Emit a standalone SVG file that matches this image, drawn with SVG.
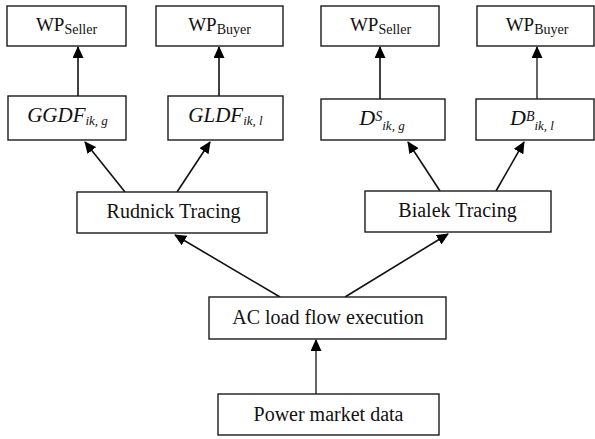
<svg xmlns="http://www.w3.org/2000/svg" width="595" height="439" viewBox="0 0 595 439">
  <style>
    .box { fill: #fff; stroke: #1a1a1a; stroke-width: 1.4; }
    .lbl { font-family: "Liberation Serif", "Times New Roman", serif; fill: #111; text-anchor: middle; }
    .it { font-style: italic; }
    .sm { font-size: 14px; }
    .xs { font-size: 13px; }
    .edge { stroke: #111; stroke-width: 1.6; fill: none; marker-end: url(#head); }
    .grey { stroke: #666; stroke-width: 2; }
  </style>
  <defs>
    <marker id="head" markerUnits="userSpaceOnUse" markerWidth="12" markerHeight="11" refX="11" refY="5.5" orient="auto">
      <path d="M0,0 L12,5.5 L0,11 z" fill="#000"/>
    </marker>
  </defs>

  <rect width="595" height="439" fill="#fff"/>

  <!-- connectors -->
  <g id="connectors">
    <line class="edge" x1="78" y1="96" x2="78" y2="47"/>
    <line class="edge" x1="219" y1="96" x2="219" y2="47"/>
    <line class="edge" x1="380" y1="99" x2="380" y2="47"/>
    <line class="edge grey" x1="537" y1="99" x2="537" y2="47"/>
    <line class="edge" x1="125" y1="192" x2="85" y2="142"/>
    <line class="edge" x1="177" y1="192" x2="210" y2="142"/>
    <line class="edge" x1="440" y1="191" x2="408" y2="142"/>
    <line class="edge" x1="496" y1="191" x2="524" y2="142"/>
    <line class="edge" x1="280" y1="297" x2="175" y2="235"/>
    <line class="edge" x1="345" y1="297" x2="448" y2="234"/>
    <line class="edge grey" x1="316" y1="394" x2="316" y2="340"/>
  </g>

  <!-- top row: price outputs -->
  <g id="wp-seller-1">
    <rect class="box" x="7" y="6" width="119" height="40"/>
    <text class="lbl" x="66.5" y="31" font-size="19">WP<tspan class="sm" dy="2.5">Seller</tspan></text>
  </g>
  <g id="wp-buyer-1">
    <rect class="box" x="156" y="6" width="127" height="40"/>
    <text class="lbl" x="219.5" y="31" font-size="19">WP<tspan class="sm" dy="2.5">Buyer</tspan></text>
  </g>
  <g id="wp-seller-2">
    <rect class="box" x="321" y="6" width="118" height="40"/>
    <text class="lbl" x="380.5" y="31" font-size="19">WP<tspan class="sm" dy="2.5">Seller</tspan></text>
  </g>
  <g id="wp-buyer-2">
    <rect class="box" x="477" y="6" width="117" height="40"/>
    <text class="lbl" x="537" y="31" font-size="19">WP<tspan class="sm" dy="2.5">Buyer</tspan></text>
  </g>

  <!-- second row: distribution factors -->
  <g id="ggdf">
    <rect class="box" x="8" y="96" width="118" height="44"/>
    <text class="lbl it" x="67.5" y="122" font-size="21">GGDF<tspan class="xs" dy="3">ik, g</tspan></text>
  </g>
  <g id="gldf">
    <rect class="box" x="168" y="96" width="115" height="44"/>
    <text class="lbl it" x="225.5" y="122" font-size="21">GLDF<tspan class="xs" dy="3">ik, l</tspan></text>
  </g>
  <g id="ds">
    <rect class="box" x="321" y="99" width="124" height="41"/>
    <text class="lbl it" x="382" y="125" font-size="22">D<tspan class="sm" dy="-4">S</tspan><tspan class="xs" dy="9">ik, g</tspan></text>
  </g>
  <g id="db">
    <rect class="box" x="476" y="99" width="118" height="41"/>
    <text class="lbl it" x="532" y="125" font-size="22">D<tspan class="sm" dy="-4">B</tspan><tspan class="xs" dy="9">ik, l</tspan></text>
  </g>

  <!-- tracing methods -->
  <g id="rudnick">
    <rect class="box" x="77" y="192" width="190" height="41"/>
    <text class="lbl" x="173.5" y="218" font-size="20">Rudnick Tracing</text>
  </g>
  <g id="bialek">
    <rect class="box" x="365" y="191" width="186" height="41"/>
    <text class="lbl" x="457.5" y="217" font-size="20">Bialek Tracing</text>
  </g>

  <!-- load flow and input data -->
  <g id="ac-load-flow">
    <rect class="box" x="209" y="297" width="237" height="42"/>
    <text class="lbl" x="328" y="323.5" font-size="20">AC load flow execution</text>
  </g>
  <g id="market-data">
    <rect class="box" x="218" y="394" width="221" height="41"/>
    <text class="lbl" x="328.5" y="420.5" font-size="20">Power market data</text>
  </g>
</svg>
